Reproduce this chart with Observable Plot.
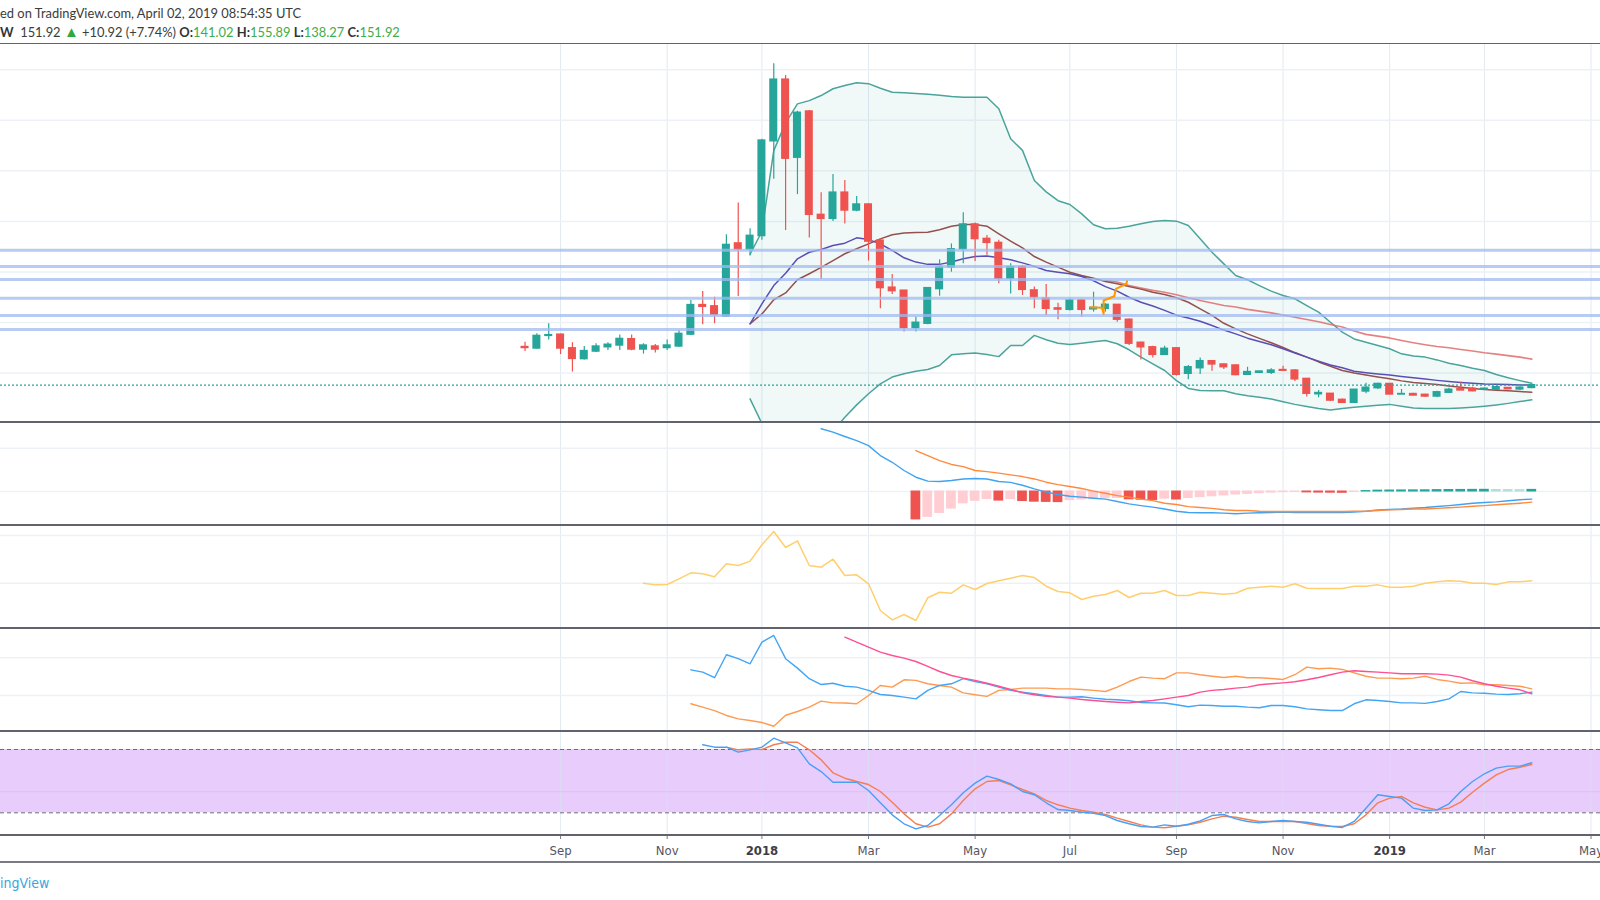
<!DOCTYPE html>
<html>
<head>
<meta charset="utf-8">
<script src="https://cdn.jsdelivr.net/npm/d3@7"></script>
<script src="https://cdn.jsdelivr.net/npm/@observablehq/plot@0.6"></script>
<style>
  html, body { margin:0; padding:0; background:#fff; }
  body { width:1600px; height:900px; overflow:hidden; position:relative; font-family: Lato, "Open Sans", sans-serif; }
  .abs { position:absolute; }
  .panel { position:absolute; left:0; width:1600px; }
  .panel svg { display:block; overflow:hidden; }
  .sep { position:absolute; left:0; width:1600px; background:#62626e; }
  #h1 { top:5px; left:0; white-space:nowrap; font-size:12.9px; color:#3c3c3c; }
  #h2 { top:24px; left:0; white-space:nowrap; font-size:12.9px; color:#3c3c3c; }
  #h2 b { font-weight:700; color:#333; }
  .g { color:#3cae4a; }
  .tri { color:#2eaa3e; font-size:15px; line-height:12px; }
  #foot { top:875px; left:0; white-space:nowrap; font-family:"Liberation Sans Narrow","DejaVu Sans Condensed",sans-serif; font-size:14px; color:#3aa6dd; }
  #axis svg { overflow:visible; }
</style>
</head>
<body>
<div id="h1" class="abs"></div>
<div id="h2" class="abs"></div>
<div id="main" class="panel" style="top:44px"></div>
<div id="macd" class="panel" style="top:422px"></div>
<div id="mom" class="panel" style="top:525px"></div>
<div id="dmi" class="panel" style="top:628px"></div>
<div id="stoch" class="panel" style="top:731px"></div>
<div id="axis" class="panel" style="top:835px"></div>
<div class="sep" style="top:42.5px;height:1.5px"></div>
<div class="sep" style="top:421px;height:2px"></div>
<div class="sep" style="top:524px;height:2px"></div>
<div class="sep" style="top:627px;height:2px"></div>
<div class="sep" style="top:730px;height:2px"></div>
<div class="sep" style="top:834px;height:2px"></div>
<div class="sep" style="top:861px;height:2px;background:#7a7a84"></div>
<div id="foot" class="abs"></div>
<script>
// ---------- header / footer text ----------
const headerLine = "ed on TradingView.com, April 02, 2019 08:54:35 UTC";
const lastLabel = ["O:", "H:", "L:", "C:"];
const lastValues = ["141.02", "155.89", "138.27", "151.92"];
const lastPrice = 151.92;
const lastChange = "+10.92 (+7.74%)";
const footerText = "ingView";

// ---------- weekly candles (from 2017-08-14, one per week) ----------
const firstWeek = "2017-08-14";
const open  = [303,297,347,352,298,255,285,302,309,334,293,305,299,305,352,469,464,424,713,689,742,1117,1361,1052,1235,826,810,914,843,867,724,538,526,378,395,532,618,690,788,731,715,573,619,527,494,456,450,487,452,454,470,411,320,302,272,298,197,219,247,234,230,193,201,201,212,210,177,116,118,94,82,127,140,157,115,117,114,107,122,136,138,134,134,141,135,141.02];
const high  = [322,355,395,354,320,305,316,320,351,351,316,313,331,368,487,523,500,747,873,771,1125,1424,1377,1236,1239,913,986,962,899,870,731,590,526,421,536,648,711,834,794,744,725,632,626,540,550,476,494,490,520,474,470,414,322,306,306,298,230,260,247,236,233,223,207,217,227,213,177,131,118,97,134,160,160,157,135,120,116,128,140,164,144,141,148,141,146,155.89];
const low   = [285,294,331,273,204,252,281,289,289,288,275,279,289,302,349,391,395,421,503,663,725,967,764,906,734,571,800,790,838,643,454,511,362,362,391,504,599,632,641,666,553,513,507,454,428,411,445,421,441,441,401,309,252,260,269,188,173,194,207,214,189,193,199,194,209,167,105,102,87,81,82,118,135,115,115,111,103,102,120,131,126,131,131,136,131,138.27];
const close = [299,347,350,297,256,287,305,312,335,293,309,293,309,355,469,462,430,707,689,743,1120,1361,1048,1230,826,810,914,843,867,720,536,524,378,399,536,618,690,788,730,715,573,619,529,500,454,451,487,450,458,470,411,316,302,272,296,193,223,247,234,223,192,204,206,210,209,175,118,121,91,82,134,142,157,115,117,111,107,124,134,131,128,138,144,136,142,151.92];

// ---------- overlays on the price panel ----------
const bbStart = 19;
const bbUpper = [670,760,1080,1190,1265,1278,1298,1325,1338,1349,1345,1327,1311,1309,1306,1303,1299,1294,1291,1291,1291,1246,1127,1081,962,917,882,867,830,787,771,773,781,791,800,804,801,784,731,678,632,586,569,546,524,507,494,467,441,401,362,335,322,309,296,276,267,263,252,239,230,219,210,194,181,170,160];
const bbLower = [98,0,-200,-330,-360,-300,-170,-30,25,74,118,157,184,197,207,214,230,272,276,279,273,265,309,309,349,332,318,313,318,324,329,316,292,263,236,210,170,139,131,130,130,118,110,104,97,86,76,68,60,54,60,65,69,73,76,69,62,60,60,60,62,65,69,74,80,87,94];
const maStart = 19;
const maPurple = [395,474,546,595,652,678,689,705,714,735,728,711,685,656,639,630,630,639,652,661,663,656,648,636,622,606,599,593,582,565,542,524,500,480,465,448,429,418,405,388,370,355,338,325,312,296,279,263,247,232,221,207,201,196,192,186,181,176,171,167,163,160,157,156,155,153,153];
const maBrown  = [395,434,490,517,569,593,618,645,672,692,711,731,747,754,756,757,767,781,788,788,781,751,722,695,661,639,619,599,586,575,562,553,542,532,520,511,498,480,454,428,397,375,355,337,320,301,281,263,244,227,210,200,192,184,177,169,163,159,155,149,144,139,135,132,130,127,124];
const maRedStart = 49;
const maRed = [566,560,546,536,527,520,510,498,487,477,467,461,452,445,438,430,421,412,403,392,382,366,353,346,339,329,320,312,305,300,293,287,280,275,269,263,255];
const levels = [686, 622, 570, 496, 428, 372];
const drawDates  = ["2018-07-14T07:00Z","2018-07-20T22:00Z","2018-07-21T23:00Z","2018-07-21T23:00Z","2018-07-28T05:00Z","2018-07-29T05:00Z","2018-08-04T10:00Z","2018-08-04T19:00Z"];
const drawPrices = [460,458,434,487,504,533,553,563];
const priceGrid = [200,400,600,800,1000,1200,1400];

// ---------- MACD ----------
const macdStart = 25;
const macdLine = [290,274,254,235,212,166,135,97,66,48,46,51,58,60,58,46,42,29,12,-3,-14,-22,-26,-31,-35,-46,-57,-65,-72,-81,-91,-97,-98,-98,-100,-103,-100,-98,-97,-95,-97,-97,-97,-97,-97,-95,-91,-85,-83,-81,-77,-74,-69,-65,-60,-54,-51,-48,-43,-38,-35];
const signalStart = 33;
const signalLine = [189,166,143,125,115,97,92,85,77,69,58,43,32,23,14,2,-8,-19,-26,-35,-42,-54,-60,-70,-74,-78,-84,-88,-88,-91,-92,-92,-92,-92,-92,-92,-92,-91,-91,-88,-85,-83,-81,-81,-78,-75,-72,-68,-65,-61,-58,-54,-49];
const histStart = 33;
const histValues = [-129,-117,-99,-79,-55,-43,-35,-42,-35,-44,-47,-48,-49,-40,-37,-34,-31,-30,-36,-38,-39,-33,-37,-30,-26,-22,-18,-14,-11,-8,-5,-3,-1.5,-4,-5,-5.5,-6,-1,2,4,4.5,5,5.3,5.6,6.5,7,7.3,7.6,7.8,7,6.5,6.2,7.5];
const macdGrid = [0, 200];

// ---------- Momentum ----------
const momStart = 10;
const momentum = [0,-35,-28,92,218,197,134,407,371,462,805,1084,748,888,371,336,503,161,176,-13,-572,-768,-656,-782,-306,-189,-210,-35,-132,-6,50,105,161,119,-63,-174,-201,-342,-272,-237,-153,-300,-210,-210,-153,-258,-258,-189,-210,-231,-210,-105,-84,-63,-84,-13,-105,-112,-112,-112,-63,-63,-35,-84,-84,-63,0,28,50,43,0,0,-28,28,28,50];
const momGrid = [0, 1000];

// ---------- DMI ----------
const diStart = 14;
const diPlus  = [33.6,32.4,29.4,41.6,39.5,36.8,48.3,51.8,39.5,34.5,28.9,25.8,26.5,24.9,24.4,22.7,20.5,20,19.1,18.2,22.7,25.3,26.2,28.9,27.4,26.2,24.4,22.7,21.8,20.9,20,19.1,19.1,19.3,18.6,18,17.7,17.2,16.3,16.1,16,15.1,14,14.9,14.7,14.3,14.3,13.8,13.5,14.7,14.7,14,12.9,12.4,12,12,15.6,17.7,17.3,16.8,16.1,16.1,15.8,16.8,18.2,22.1,21.4,21.2,20.7,20.5,20.9,21.8];
const diMinus = [15.6,13.8,12,9.4,7.6,6.7,5.7,3.7,9.5,11.5,13.8,17,16.1,16,15.6,20,25.3,24.4,28.3,28,26.2,25.3,24.4,21.4,20.4,19.5,22.7,23.2,23.9,23.9,23.9,23.5,23.5,23.2,22.7,22.1,24.4,27.4,29.7,29.2,28.9,32,32,31,30.2,29.5,30.2,29.4,29.4,29,28.5,31,35,34.2,34.5,33.8,32,30.2,29.2,29.2,28.9,29.2,30.2,28.5,27.6,26.5,26.7,25.7,25.7,25.3,24.9,23.5];
const adxStart = 27;
const adx = [50.9,48.3,45.6,43,41.2,39.8,38,35.4,32.7,30.6,29.2,28,26.5,24.9,23.2,21.4,20.4,19.5,19.1,18.6,17.9,17.3,16.8,16.4,16.1,16.8,17.3,18.2,19.1,20,21.8,22.7,23.2,23.9,24.4,25.7,26.2,26.7,27.3,28.3,29.5,31,32.4,33.1,32.7,32.4,32,31.5,31.5,31.5,31.3,30.8,29.7,27.8,26.2,24.9,23.9,23,20.9];
const dmiGrid = [20, 40];

// ---------- Stochastic RSI ----------
const kStart = 15;
const stochK = [84.5,82.2,82.2,77.5,79.7,82.2,90.7,86.3,81.6,66.4,59.1,49,49,49,41.1,29.5,18.1,9.6,4.8,8,17.4,27.6,39,48.1,54.7,51.6,47.5,40.2,37.1,29.5,23.1,22.2,20.6,19.6,17.4,12.7,9.6,7,6.4,8.6,7.3,9.2,12.4,17.4,18.4,14.3,11.8,10.5,11.8,12.7,11.8,11.1,9.2,7.3,6.1,11.8,24.4,37.1,35.5,33.9,24.4,22.2,22.8,28.5,40.2,49.7,57,62.3,64.2,64.2,67.4];
const dStart = 17;
const stochD = [82.2,79.7,80.6,80,84.5,86.9,86.9,79.7,70.2,57.9,52.8,49.7,46.8,40.2,30.1,19,9.6,6.4,9.6,19,31.7,42.7,49.7,50.6,46.5,42.1,38,31.7,27.6,24.4,22.2,20.6,18.4,14.9,11.8,8.6,6.4,5.8,7.3,8.6,11.1,14.3,16.8,15.8,13.7,11.8,11.8,11.8,11.8,9.9,8,7.3,7,9.6,18.1,29.5,33.9,35.5,29.5,25.3,22.8,24.4,30.1,39.5,48.1,56,61,63.2,65.8];
const stochLevels = [20, 80];
const stochGrid = [40];

// ---------- time axis ----------
const tickDates  = ["2017-09-04","2017-11-06","2018-01-01","2018-03-05","2018-05-07","2018-07-02","2018-09-03","2018-11-05","2019-01-07","2019-03-04","2019-05-06"];
const tickLabels = ["Sep","Nov","2018","Mar","May","Jul","Sep","Nov","2019","Mar","May"];

// =====================================================================
const UP = "#26a69a", DOWN = "#ef5350";
const xDomain = [new Date("2016-10-08T00:00:00Z"), new Date("2019-05-11T14:24:00Z")];
const t0 = new Date(firstWeek + "T00:00:00Z");
const dates = close.map((_, i) => d3.utcDay.offset(t0, 7 * i));
const gridDates = tickDates.map(s => new Date(s + "T00:00:00Z"));
const series = (start, arr) => arr.map((v, k) => ({date: dates[start + k], v}));

document.getElementById("h1").textContent = headerLine;
document.getElementById("h2").innerHTML =
  `<b>W</b>&nbsp; ${lastPrice.toFixed(2)} <span class="tri">▲</span> ${lastChange} ` +
  lastLabel.map((l, i) => `<b>${l}</b><span class="g">${lastValues[i]}</span>`).join(" ");
document.getElementById("foot").textContent = footerText;

function panel(h, yDomain, marks) {
  return Plot.plot({
    width: 1600, height: h,
    marginTop: 0, marginBottom: 0, marginLeft: 0, marginRight: 0,
    x: {type: "utc", domain: xDomain, axis: null},
    y: {domain: yDomain, axis: null},
    style: {background: "transparent"},
    marks
  });
}
const vgrid = () => Plot.ruleX(gridDates, {stroke: "#e2eaf2", strokeWidth: 1});

// ---- main price panel
const candles = close.map((c, i) => ({
  date: dates[i], open: open[i], high: high[i], low: low[i], close: c,
  lo: Math.min(open[i], c), hi: Math.max(open[i], c)
}));
const candleColor = d => d.close >= d.open ? UP : DOWN;
const bb = bbUpper.map((u, k) => ({date: dates[bbStart + k], up: u, lo: bbLower[k]}));
const drawing = drawDates.map((s, k) => ({date: new Date(s), v: drawPrices[k]}));

document.getElementById("main").append(panel(378, [4.3, 1500], [
  vgrid(),
  Plot.ruleY(priceGrid, {stroke: "#edf1f6", strokeWidth: 1.5}),
  Plot.areaY(bb, {x: "date", y1: "lo", y2: "up", fill: "#26a69a", fillOpacity: 0.065, clip: true}),
  Plot.lineY(bb, {x: "date", y: "up", stroke: "#4aa49c", strokeWidth: 1.5, clip: true}),
  Plot.lineY(bb, {x: "date", y: "lo", stroke: "#4aa49c", strokeWidth: 1.5, clip: true}),
  Plot.lineY(series(maRedStart, maRed), {x: "date", y: "v", stroke: "#df6b6b", strokeOpacity: 0.85, strokeWidth: 1.6, clip: true}),
  Plot.lineY(series(maStart, maBrown), {x: "date", y: "v", stroke: "#93504f", strokeWidth: 1.5, clip: true}),
  Plot.lineY(series(maStart, maPurple), {x: "date", y: "v", stroke: "#5a4db6", strokeWidth: 1.5, clip: true}),
  Plot.ruleX(candles, {x: "date", y1: "low", y2: "high", stroke: candleColor, strokeWidth: 1.2}),
  Plot.rect(candles, {
    x1: d => d3.utcHour.offset(d.date, -57), x2: d => d3.utcHour.offset(d.date, 57),
    y1: "lo", y2: "hi", fill: candleColor, insetTop: -0.7, insetBottom: -0.7
  }),
  Plot.ruleY(levels, {stroke: "#9fb9f1", strokeWidth: 3, strokeOpacity: 0.75}),
  Plot.lineY(drawing, {x: "date", y: "v", stroke: "#ff9800", strokeWidth: 2}),
  Plot.ruleY([lastPrice], {stroke: "#26a69a", strokeWidth: 1.2, strokeDasharray: "2,2"})
]));

// ---- MACD panel
const hist = histValues.map((v, k) => {
  const prev = k > 0 ? histValues[k - 1] : v;
  return {date: dates[histStart + k], v,
    color: v >= 0 ? (v >= prev ? "#26a69a" : "#b2dfdb") : (v > prev ? "#ffcdd2" : "#ef5350")};
});
document.getElementById("macd").append(panel(103, [-157, 318.7], [
  vgrid(),
  Plot.ruleY(macdGrid, {stroke: "#edf1f6", strokeWidth: 1.5}),
  Plot.rect(hist, {
    x1: d => d3.utcHour.offset(d.date, -69), x2: d => d3.utcHour.offset(d.date, 69),
    y1: 0, y2: "v", fill: "color", insetTop: -0.5, insetBottom: -0.5
  }),
  Plot.lineY(series(macdStart, macdLine), {x: "date", y: "v", stroke: "#3fa3f2", strokeWidth: 1.4, clip: true}),
  Plot.lineY(series(signalStart, signalLine), {x: "date", y: "v", stroke: "#ff8a3d", strokeWidth: 1.4, clip: true})
]));

// ---- Momentum panel
document.getElementById("mom").append(panel(103, [-949.7, 1209.6], [
  vgrid(),
  Plot.ruleY(momGrid, {stroke: "#edf1f6", strokeWidth: 1.5}),
  Plot.lineY(series(momStart, momentum), {x: "date", y: "v", stroke: "#ffcf6e", strokeWidth: 1.5, clip: true})
]));

// ---- DMI panel
document.getElementById("dmi").append(panel(103, [0.9, 55.5], [
  vgrid(),
  Plot.ruleY(dmiGrid, {stroke: "#edf1f6", strokeWidth: 1.5}),
  Plot.lineY(series(diStart, diMinus), {x: "date", y: "v", stroke: "#ff9a52", strokeWidth: 1.4, clip: true}),
  Plot.lineY(series(diStart, diPlus), {x: "date", y: "v", stroke: "#42a5f5", strokeWidth: 1.4, clip: true}),
  Plot.lineY(series(adxStart, adx), {x: "date", y: "v", stroke: "#ff4f93", strokeWidth: 1.4, clip: true})
]));

// ---- Stoch RSI panel
document.getElementById("stoch").append(panel(104, [-1.5, 97.06], [
  Plot.rect([stochLevels], {x1: xDomain[0], x2: xDomain[1], y1: d => d[0], y2: d => d[1], fill: "#e8cdfc"}),
  Plot.ruleX(gridDates, {stroke: "#d6e1ee", strokeWidth: 1, strokeOpacity: 0.7}),
  Plot.ruleY(stochGrid, {stroke: "#dcc6ef", strokeWidth: 1.2}),
  Plot.ruleY(stochLevels, {stroke: "#6e6b78", strokeWidth: 1, strokeDasharray: "4,3"}),
  Plot.lineY(series(dStart, stochD), {x: "date", y: "v", stroke: "#f47e54", strokeWidth: 1.4, clip: true}),
  Plot.lineY(series(kStart, stochK), {x: "date", y: "v", stroke: "#4a9ff5", strokeWidth: 1.4, clip: true})
]));

// ---- time axis
const labelOf = new Map(gridDates.map((d, i) => [+d, tickLabels[i]]));
const axisSvg = Plot.plot({
  width: 1600, height: 27, marginTop: 0, marginBottom: 27, marginLeft: 0, marginRight: 0,
  x: {type: "utc", domain: xDomain, axis: null},
  style: {fontFamily: "'Liberation Sans Narrow','DejaVu Sans Condensed',sans-serif", fontSize: "13px", color: "#55555f", background: "transparent"},
  marks: [
    Plot.axisX(gridDates, {anchor: "bottom", tickSize: 4, tickPadding: 6, tickFormat: d => labelOf.get(+d), stroke: "#7a7a84"})
  ]
});
axisSvg.querySelectorAll("text").forEach(t => {
  if (/^\d{4}$/.test(t.textContent.trim())) { t.setAttribute("font-weight", "bold"); t.setAttribute("fill", "#3d3d46"); }
});
document.getElementById("axis").append(axisSvg);
</script>
</body>
</html>
